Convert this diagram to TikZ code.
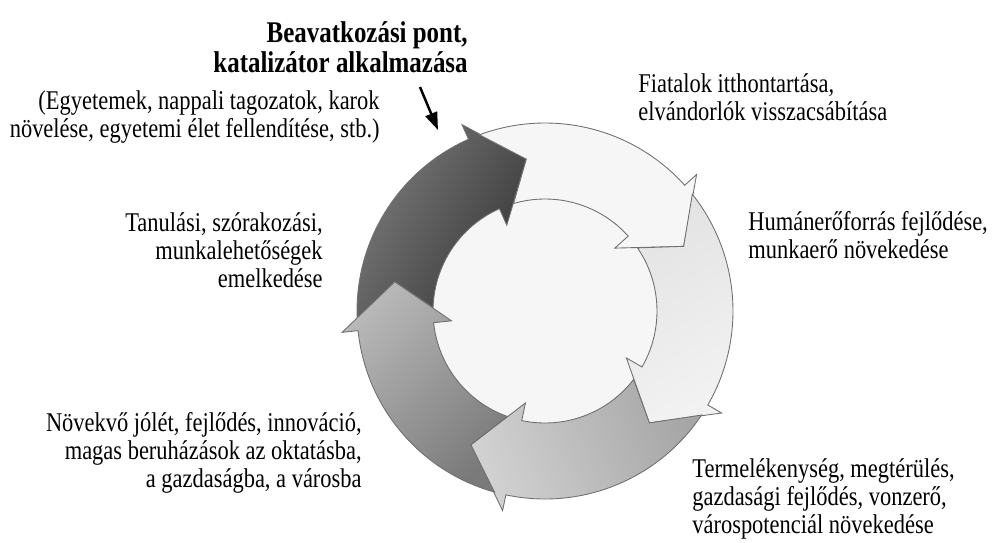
\documentclass[tikz,border=0pt]{standalone}
\usepackage{fontspec}
\setmainfont[FakeStretch=0.83]{Liberation Serif}
\usetikzlibrary{arrows.meta,positioning}

\definecolor{ringline}{HTML}{707070}
\definecolor{diskfill}{HTML}{F6F6F6}

\begin{document}
\begin{tikzpicture}[
      txt/.style={inner sep=0pt, font=\fontsize{15.4}{15.9}\selectfont},
      txtl/.style={txt, align=left, anchor=base west},
      txtr/.style={txt, align=right, anchor=base east},
      outline/.style={draw=ringline, line width=0.5pt},
      ringdark/.style={outline, top color=black!52, bottom color=black!78, shading angle=60},
      ringwhite/.style={outline, fill=diskfill},
      ringright/.style={outline, top color=black!11, bottom color=black!5, shading angle=30},
      ringbottom/.style={outline, top color=black!18, bottom color=black!35, shading angle=110},
      ringleft/.style={outline, top color=black!28, bottom color=black!52, shading angle=45},
      pointer/.style={line width=1.4pt, -{Triangle[length=10pt,width=7pt]}}
    ]
      \useasboundingbox (0,0) rectangle (19.96,10.84);
      \def\rIn{2.24}
      \def\rOut{3.76}
      \def\rMid{3.06}
      \def\rBi{1.88}
      \def\rBo{4.08}

      \coordinate (ctr) at (10.9,4.62);
      \begin{scope}[shift={(ctr)}]
        \fill[diskfill] (0,0) circle (\rIn);
        \foreach \s/\kind in {186/ringdark, 114/ringwhite, 42/ringright, -30/ringbottom, -102/ringleft}{
          \pgfmathsetmacro\e{\s-72}
          \path[\kind] ({\s-3.6}:\rOut) arc[start angle=\s-3.6, end angle=\e, radius=\rOut]
            -- (\e:\rBo) -- ({\e-17}:\rMid) -- (\e:\rBi) -- (\e:\rIn)
            arc[start angle=\e, end angle=\s-7.7, radius=\rIn]
            -- ({\s-17}:\rMid) -- cycle;
        }
      \end{scope}

      % texts are anchored at the baseline of their last line
      \node [txtr, font=\fontsize{17.1}{15.4}\selectfont\bfseries] (title) at (9.36,9.40) {Beavatkozási pont,\\katalizátor alkalmazása};
      \node [txtr] (univ) at (7.60,8.10) {(Egyetemek, nappali tagozatok, karok\\növelése, egyetemi élet fellendítése, stb.)};
      \node [txtl] (youth) at (12.76,8.44) {Fiatalok itthontartása,\\elvándorlók visszacsábítása};
      \node [txtl] (human) at (14.96,5.68) {Humánerőforrás fejlődése,\\munkaerő növekedése};
      \node [txtr] (learn) at (6.46,5.10) {Tanulási, szórakozási,\\munkalehetőségek\\emelkedése};
      \node [txtr] (wealth) at (7.24,1.10) {Növekvő jólét, fejlődés, innováció,\\magas beruházások az oktatásba,\\a gazdaságba, a városba};
      \node [txtl] (prod) at (13.84,0.18) {Termelékenység, megtérülés,\\gazdasági fejlődés, vonzerő,\\várospotenciál növekedése};

      \coordinate (tail) at (8.40,9.10);
      \coordinate (hit) at (8.76,8.24);
      \draw [pointer] (tail) -- (hit);
    \end{tikzpicture}
\end{document}
